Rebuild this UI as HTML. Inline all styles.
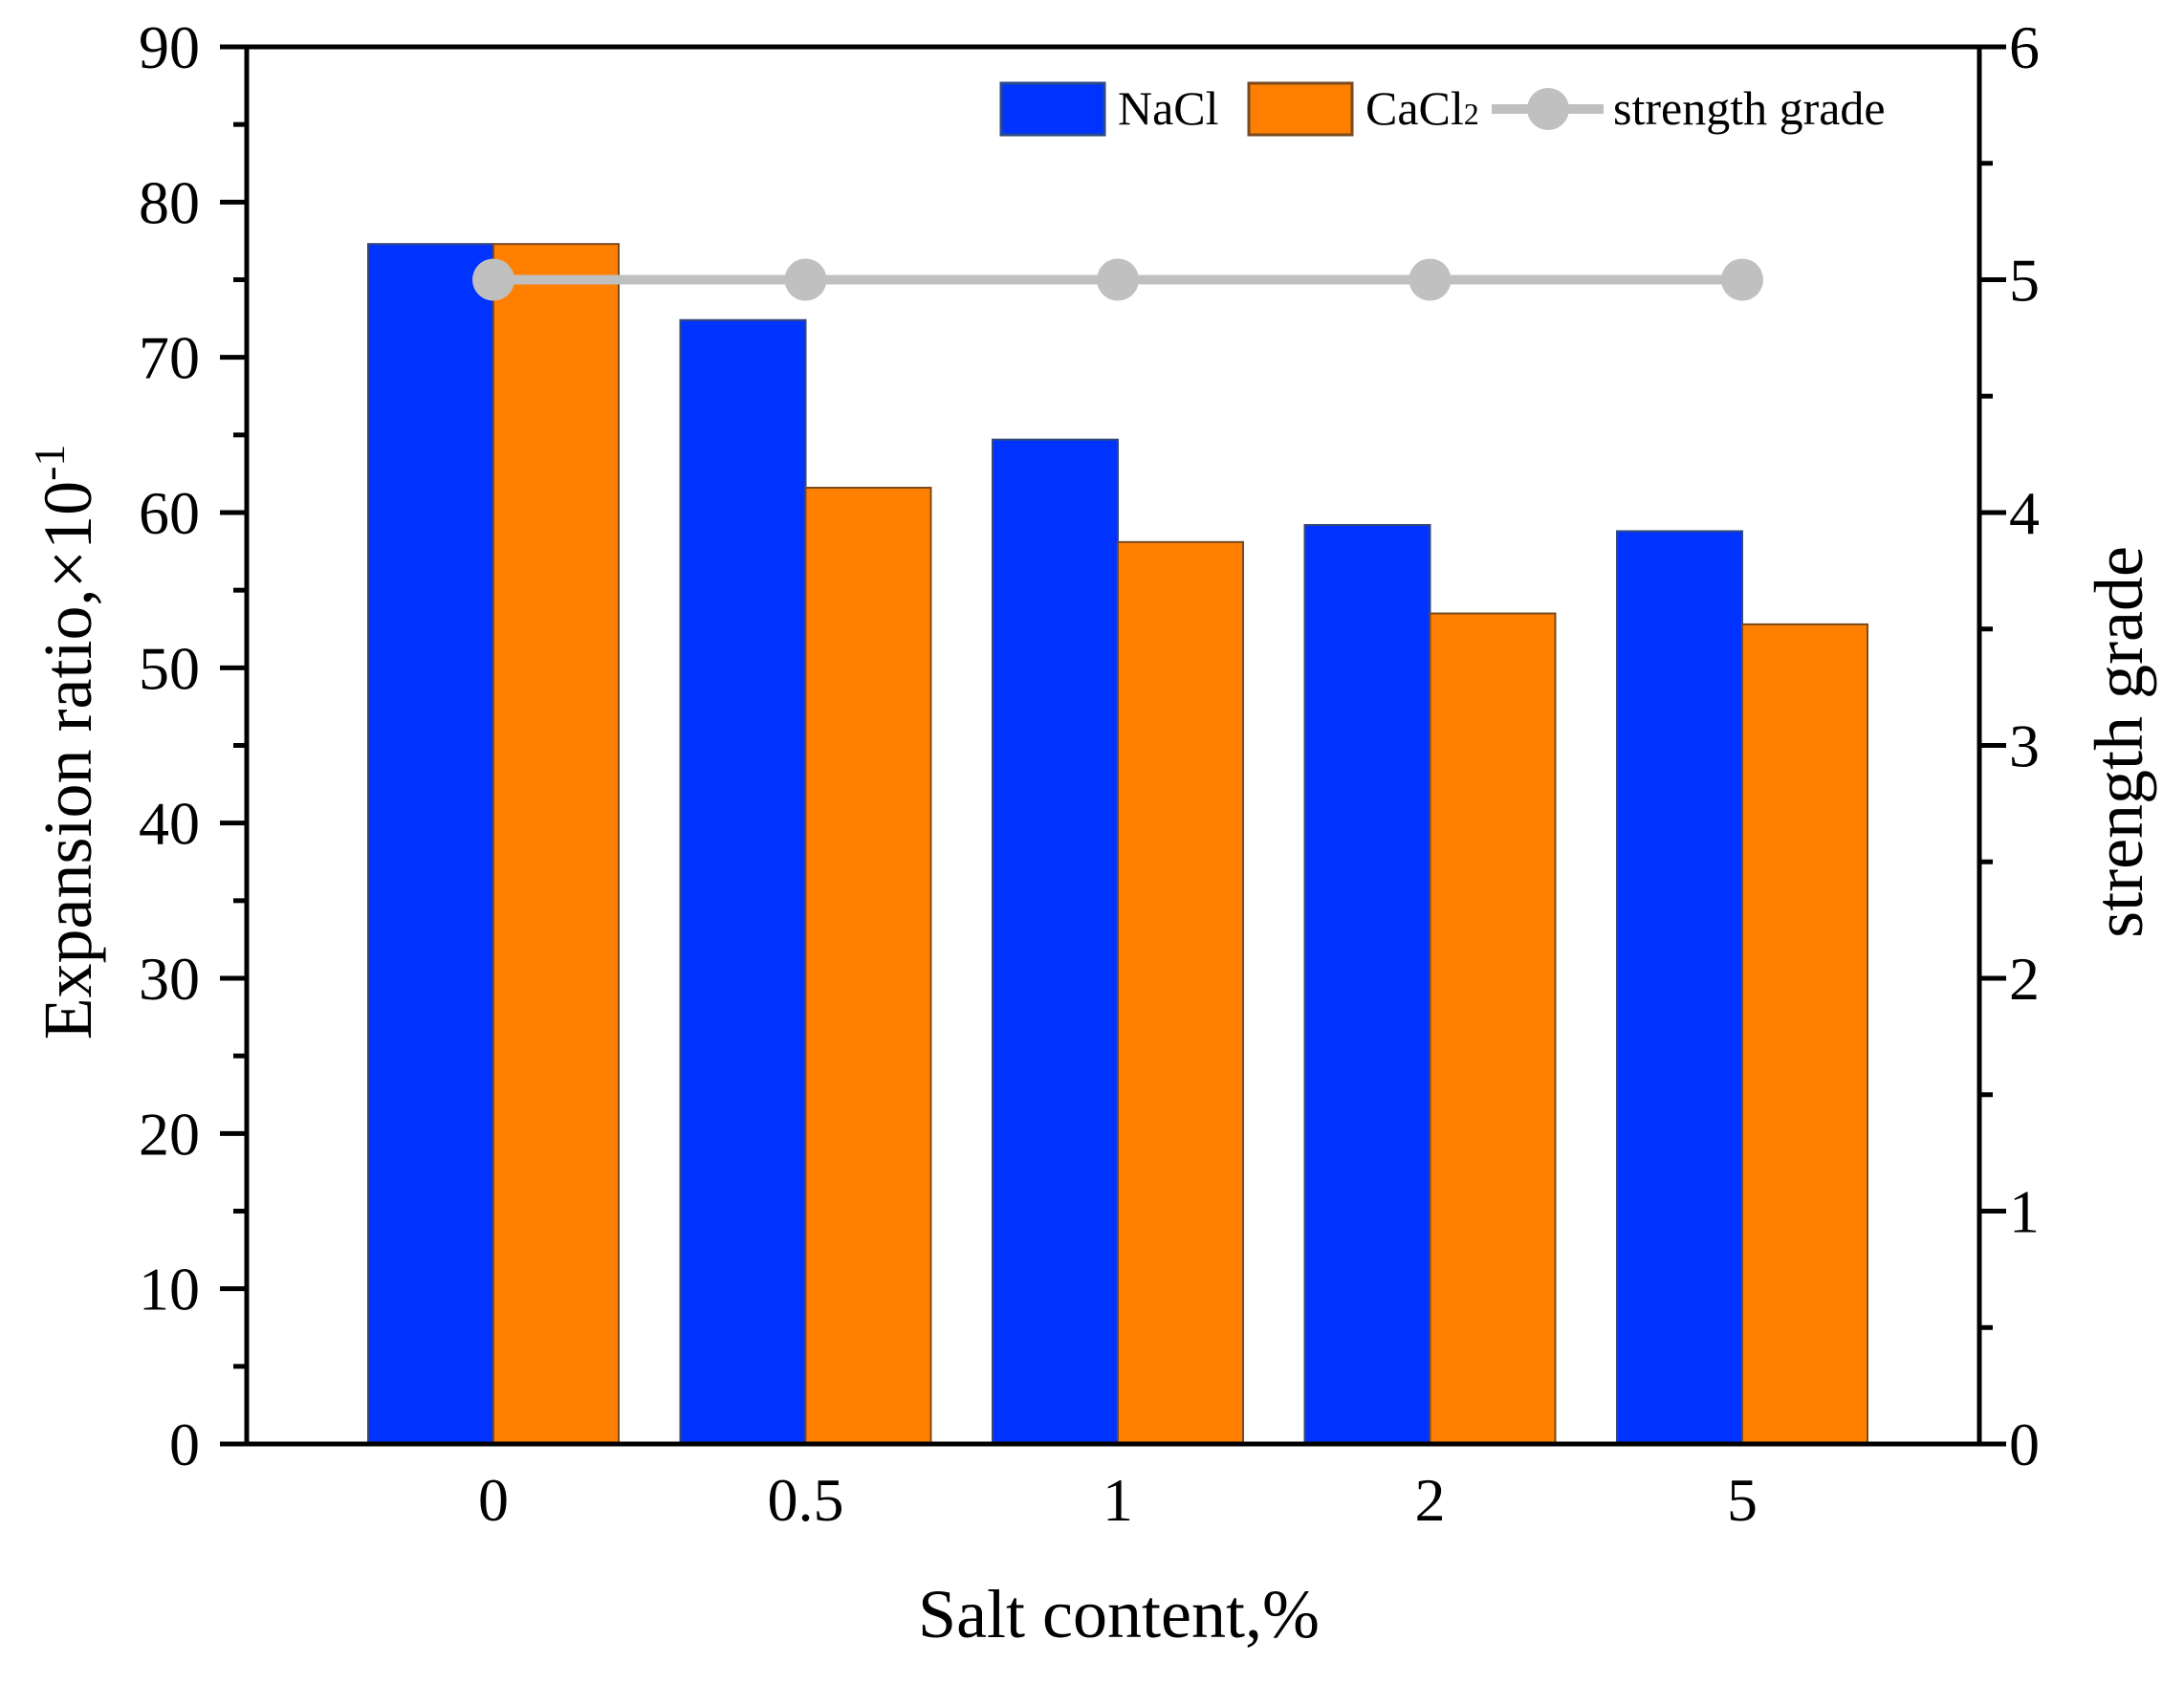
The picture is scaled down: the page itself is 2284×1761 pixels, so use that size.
<!DOCTYPE html>
<html><head><meta charset="utf-8"><style>
html,body{margin:0;padding:0;background:#fff;}
svg{display:block;font-family:"Liberation Serif",serif;}
</style></head><body>
<svg id="chart" width="2284" height="1761" viewBox="0 0 2284 1761" xmlns="http://www.w3.org/2000/svg">
<g id="bars"></g>
<g id="line"></g>
<g id="axes"></g>
<g>
  <rect x="1047" y="87" width="108" height="54" fill="#0033ff" stroke="#2a4a8a" stroke-width="3"/>
  <text x="1169" y="130" font-size="50">NaCl</text>
  <rect x="1306" y="87" width="108" height="54" fill="#ff8000" stroke="#7a4a20" stroke-width="3"/>
  <text x="1428" y="130" font-size="50">CaCl<tspan font-size="32">2</tspan></text>
  <line x1="1560" y1="114" x2="1677" y2="114" stroke="#c0c0c0" stroke-width="10"/>
  <circle cx="1619" cy="114" r="22" fill="#c0c0c0"/>
  <text x="1687" y="130" font-size="50">strength grade</text>
</g>
<text x="1170" y="1712" font-size="72" text-anchor="middle">Salt content,%</text>
<text transform="translate(95,776) rotate(-90)" font-size="72" text-anchor="middle">Expansion ratio,×10<tspan dy="-28" font-size="46">-1</tspan></text>
<text transform="translate(2240,776) rotate(-90)" font-size="72" text-anchor="middle">strength grade</text>
</svg>
<script>
const categories = ["0","0.5","1","2","5"];
const naclValues = [77.3, 72.4, 64.7, 59.2, 58.8];
const cacl2Values = [77.3, 61.6, 58.1, 53.5, 52.8];
const strengthValues = [5, 5, 5, 5, 5];
const leftTicks = [0,10,20,30,40,50,60,70,80,90];
const rightTicks = [0,1,2,3,4,5,6];

const NS = "http://www.w3.org/2000/svg";
const L = 258, R = 2070, T = 49, B = 1510;
const yL = v => B - (v / 90) * (B - T);
const yR = v => B - (v / 6) * (B - T);
const xC = i => 516 + i * 326.5;
const BW = 131;
function mk(tag, attrs, parent) {
  const e = document.createElementNS(NS, tag);
  for (const k in attrs) e.setAttribute(k, attrs[k]);
  parent.appendChild(e);
  return e;
}
const gb = document.getElementById("bars");
const gl = document.getElementById("line");
const ga = document.getElementById("axes");

categories.forEach((c, i) => {
  const b1 = mk("rect", {x: xC(i) - BW, y: yL(naclValues[i]), width: BW, height: B - yL(naclValues[i]), fill: "#0033ff", stroke: "#334a7a", "stroke-width": 2}, gb);
  
  
  const b2 = mk("rect", {x: xC(i), y: yL(cacl2Values[i]), width: BW, height: B - yL(cacl2Values[i]), fill: "#ff8000", stroke: "#7a4a20", "stroke-width": 2}, gb);
  
  
  const t = mk("text", {x: xC(i), y: 1590, "font-size": 64, "text-anchor": "middle"}, ga);
  t.textContent = c;
  
  
});

const pts = strengthValues.map((v, i) => xC(i) + "," + yR(v)).join(" ");
const pl = mk("polyline", {points: pts, fill: "none", stroke: "#c0c0c0", "stroke-width": 10}, gl);


strengthValues.forEach((v, i) => {
  const c = mk("circle", {cx: xC(i), cy: yR(v), r: 22, fill: "#c0c0c0"}, gl);
  
  
});

const fr = mk("rect", {x: L, y: T, width: R - L, height: B - T, fill: "none", stroke: "#000", "stroke-width": 5}, ga);



leftTicks.forEach(v => {
  const tk = mk("line", {x1: L - 28, x2: L, y1: yL(v), y2: yL(v), stroke: "#000", "stroke-width": 5}, ga);
  
  
  if (v < 90) {
    const mt = mk("line", {x1: L - 14, x2: L, y1: yL(v + 5), y2: yL(v + 5), stroke: "#000", "stroke-width": 5}, ga);
    
    
  }
  const t = mk("text", {x: 209, y: yL(v) + 22, "font-size": 64, "text-anchor": "end"}, ga);
  t.textContent = v;
  
  
});
rightTicks.forEach(v => {
  const tk = mk("line", {x1: R, x2: R + 28, y1: yR(v), y2: yR(v), stroke: "#000", "stroke-width": 5}, ga);
  
  
  if (v < 6) {
    const mt = mk("line", {x1: R, x2: R + 14, y1: yR(v + 0.5), y2: yR(v + 0.5), stroke: "#000", "stroke-width": 5}, ga);
    
    
  }
  const t = mk("text", {x: 2101, y: yR(v) + 22, "font-size": 64}, ga);
  t.textContent = v;
  
  
});
</script>
</body></html>
